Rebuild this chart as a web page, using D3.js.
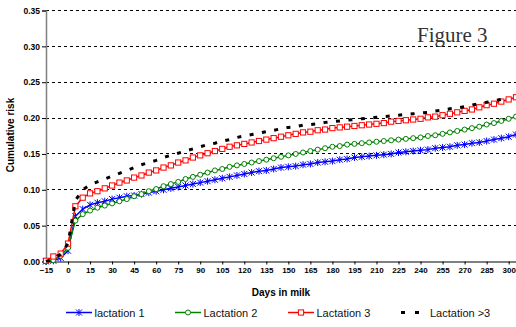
<!DOCTYPE html>
<html><head><meta charset="utf-8">
<script src="https://cdn.jsdelivr.net/npm/d3@7/dist/d3.min.js"></script>
<style>body{margin:0;background:#fff}svg{display:block}</style>
</head><body>
<svg id="c" width="516" height="327"></svg>
<script>
const days = d3.range(-15, 306, 5);
const lact1 = [0.000,0.001,0.005,0.015,0.063,0.073,0.079,0.082,0.084,0.087,0.089,0.091,0.092,0.094,0.096,0.098,0.100,0.102,0.104,0.106,0.108,0.110,0.112,0.114,0.116,0.118,0.120,0.122,0.124,0.126,0.127,0.129,0.131,0.132,0.133,0.135,0.136,0.138,0.139,0.140,0.142,0.143,0.145,0.146,0.147,0.148,0.149,0.150,0.152,0.153,0.154,0.155,0.156,0.158,0.159,0.160,0.162,0.163,0.165,0.166,0.168,0.170,0.172,0.174,0.177];
const lact2 = [0.000,0.002,0.008,0.019,0.057,0.066,0.071,0.075,0.078,0.081,0.084,0.087,0.091,0.094,0.098,0.101,0.105,0.108,0.111,0.115,0.118,0.121,0.124,0.127,0.129,0.132,0.134,0.136,0.138,0.140,0.142,0.144,0.146,0.148,0.150,0.152,0.154,0.156,0.158,0.160,0.161,0.163,0.164,0.165,0.166,0.167,0.168,0.169,0.170,0.171,0.172,0.173,0.175,0.176,0.178,0.180,0.182,0.184,0.186,0.188,0.191,0.193,0.196,0.199,0.202];
const lact3 = [0.001,0.007,0.011,0.025,0.077,0.089,0.095,0.098,0.102,0.106,0.110,0.113,0.117,0.120,0.124,0.127,0.131,0.134,0.138,0.141,0.145,0.148,0.151,0.154,0.157,0.160,0.162,0.164,0.166,0.168,0.170,0.172,0.174,0.176,0.178,0.180,0.181,0.183,0.184,0.186,0.187,0.188,0.189,0.190,0.191,0.192,0.193,0.195,0.196,0.197,0.198,0.199,0.201,0.202,0.204,0.206,0.208,0.210,0.212,0.215,0.218,0.220,0.223,0.226,0.229];
const lact4 = [0.000,0.004,0.010,0.025,0.085,0.100,0.107,0.111,0.115,0.119,0.123,0.127,0.131,0.135,0.138,0.141,0.145,0.148,0.151,0.154,0.157,0.160,0.163,0.165,0.168,0.170,0.173,0.175,0.177,0.179,0.181,0.183,0.185,0.187,0.188,0.190,0.191,0.192,0.194,0.195,0.196,0.197,0.198,0.199,0.200,0.201,0.202,0.203,0.204,0.205,0.206,0.207,0.208,0.210,0.211,0.213,0.214,0.216,0.218,0.220,0.222,0.224,0.226,0.228];
const xTicks = d3.range(-15, 301, 15);
const yTicks = [0, 0.05, 0.10, 0.15, 0.20, 0.25, 0.30, 0.35];
const seriesNames = ["lactation 1", "Lactation 2", "Lactation 3", "Lactation >3"];

const svg = d3.select("#c");
const x = d3.scaleLinear().domain([-15, 305]).range([46, 516]);
const y = d3.scaleLinear().domain([0, 0.35]).range([261.5, 10.5]);

// gridlines
svg.append("g").selectAll("line").data(yTicks.filter(v => v > 0)).join("line")
  .attr("x1", 46).attr("x2", 516).attr("y1", d => y(d)).attr("y2", d => y(d))
  .attr("stroke", "#000").attr("stroke-width", 1).attr("stroke-dasharray", "3,3")
  .attr("shape-rendering", "crispEdges");

// y axis
const ya = svg.append("g").attr("transform", "translate(46,0)")
  .call(d3.axisLeft(y).tickValues(yTicks).tickFormat(d3.format(".2f")).tickSize(4).tickPadding(2));
ya.select(".domain").attr("stroke", "#808080").attr("stroke-width", 1.5);
ya.selectAll(".tick line").attr("stroke", "#000");
ya.selectAll("text").attr("font-family", "Liberation Sans, Arial, sans-serif")
  .attr("font-size", 8.5).attr("font-weight", "bold").attr("fill", "#000");

// x axis
const xa = svg.append("g").attr("transform", "translate(0,261.5)")
  .call(d3.axisBottom(x).tickValues(xTicks).tickFormat(d3.format("d")).tickSize(3).tickSizeOuter(0).tickPadding(3));
xa.select(".domain").attr("stroke", "#000").attr("stroke-width", 1);
xa.selectAll(".tick line").attr("stroke", "#000");
xa.selectAll("text").attr("font-family", "Liberation Sans, Arial, sans-serif")
  .attr("font-size", 8).attr("font-weight", "bold").attr("fill", "#000");

// axis titles
svg.append("text").attr("x", 281).attr("y", 296).attr("text-anchor", "middle")
  .attr("font-family", "Liberation Sans, Arial, sans-serif").attr("font-size", 10).attr("font-weight", "bold")
  .text("Days in milk");
svg.append("text").attr("transform", "translate(14,135) rotate(-90)").attr("text-anchor", "middle")
  .attr("font-family", "Liberation Sans, Arial, sans-serif").attr("font-size", 10).attr("font-weight", "bold")
  .text("Cumulative risk");

// figure label
svg.append("text").attr("x", 417).attr("y", 42)
  .attr("font-family", "Liberation Serif, Times New Roman, serif").attr("font-size", 21).attr("fill", "#333")
  .text("Figure 3");

const line = d3.line().x((d, i) => x(days[i])).y(d => y(d));
const plot = svg.append("g");

function star(g, color) {
  g.append("path").attr("d", "M-3,-3L3,3M-3,3L3,-3M0,-3.5L0,3.5")
    .attr("stroke", color).attr("stroke-width", 1).attr("fill", "none");
}
function circ(g, color) {
  g.append("circle").attr("r", 2.5).attr("fill", "#fff").attr("stroke", color).attr("stroke-width", 1);
}
function sq(g, color) {
  g.append("rect").attr("x", -2.6).attr("y", -2.6).attr("width", 5.2).attr("height", 5.2)
    .attr("fill", "#fff").attr("stroke", color).attr("stroke-width", 1);
}

const series = [
  {vals: lact1, color: "#0000ff", mark: star},
  {vals: lact2, color: "#008000", mark: circ},
  {vals: lact3, color: "#ff0000", mark: sq}
];
series.forEach(s => {
  plot.append("path").attr("d", line(s.vals)).attr("fill", "none")
    .attr("stroke", s.color).attr("stroke-width", 1.5);
  plot.append("g").selectAll("g").data(s.vals).join("g")
    .attr("transform", (d, i) => `translate(${x(days[i])},${y(d)})`)
    .each(function() { s.mark(d3.select(this), s.color); });
});
plot.append("path").attr("d", line(lact4)).attr("fill", "none")
  .attr("stroke", "#000").attr("stroke-width", 3).attr("stroke-dasharray", "4,8.5");

// legend
const lg = svg.append("g").attr("font-family", "Liberation Sans, Arial, sans-serif").attr("font-size", 11);
const legX = [66, 175, 288, 401];
const ly = 312.5;
series.forEach((s, i) => {
  lg.append("line").attr("x1", legX[i]).attr("x2", legX[i] + 26).attr("y1", ly).attr("y2", ly)
    .attr("stroke", s.color).attr("stroke-width", 1.5);
  const m = lg.append("g").attr("transform", `translate(${legX[i] + 13},${ly})`);
  s.mark(m, s.color);
  lg.append("text").attr("x", legX[i] + 28.5).attr("y", ly + 4).attr("fill", "#111").text(seriesNames[i]);
});
lg.append("line").attr("x1", legX[3]).attr("x2", legX[3] + 20).attr("y1", ly).attr("y2", ly)
  .attr("stroke", "#000").attr("stroke-width", 3).attr("stroke-dasharray", "4,10");
lg.append("text").attr("x", 430).attr("y", ly + 4).attr("fill", "#111").text(seriesNames[3]);
</script>
</body></html>
